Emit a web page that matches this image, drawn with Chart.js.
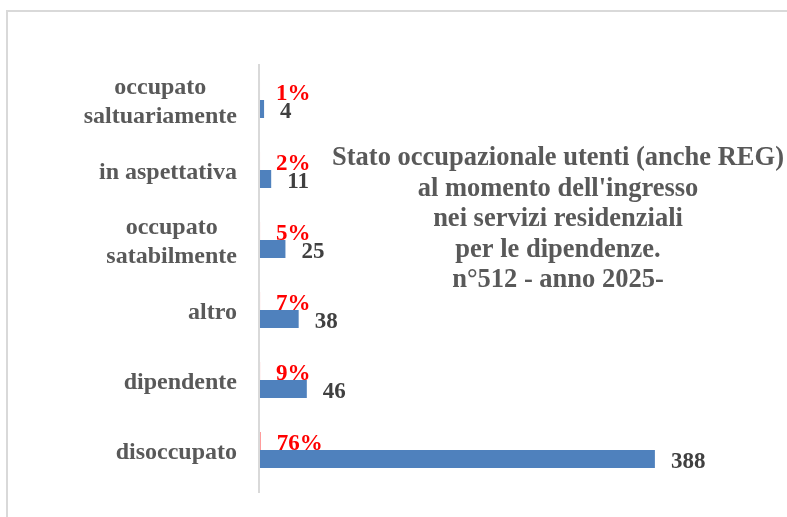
<!DOCTYPE html>
<html>
<head>
<meta charset="utf-8">
<script src="https://cdn.jsdelivr.net/npm/chart.js@4.4.1/dist/chart.umd.min.js"></script>
<style>
  html, body { margin: 0; padding: 0; background: #fff; overflow: hidden; }
  #frame { position: absolute; left: 6px; top: 10px; width: 820px; height: 560px; border: 2px solid #d9d9d9; box-sizing: border-box; }
  #myChart { position: absolute; left: 0; top: 0; }
</style>
</head>
<body>
<div id="frame"></div>
<canvas id="myChart" width="787" height="517"></canvas>
<script>
// data
const categories = [
    ['occupato', 'saltuariamente'],
    'in aspettativa',
    ['occupato', 'satabilmente'],
    'altro',
    'dipendente',
    'disoccupato'
];
const counts = [4, 11, 25, 38, 46, 388];
const shares = [0.01, 0.02, 0.05, 0.07, 0.09, 0.76];
const titleLines = [
    'Stato occupazionale utenti (anche REG)',
    "al momento dell'ingresso",
    'nei servizi residenziali',
    'per le dipendenze.',
    'n°512 - anno 2025-'
];

const serif = '"Liberation Serif", "Times New Roman", serif';

// vertical axis line, a bit longer than the plot like in Excel
const axisLine = {
    id: 'axisLine',
    beforeDatasetsDraw(chart) {
        const ctx = chart.ctx;
        const area = chart.chartArea;
        ctx.save();
        ctx.strokeStyle = '#d9d9d9';
        ctx.lineWidth = 2;
        ctx.beginPath();
        ctx.moveTo(area.left - 1, area.top - 1);
        ctx.lineTo(area.left - 1, area.bottom + 8);
        ctx.stroke();
        ctx.restore();
    }
};

// category labels: block right aligned on the axis, lines centred inside the block
const categoryLabels = {
    id: 'categoryLabels',
    afterDraw(chart) {
        const ctx = chart.ctx;
        const yScale = chart.scales.y;
        ctx.save();
        ctx.font = 'bold 24px ' + serif;
        ctx.fillStyle = '#595959';
        ctx.textAlign = 'center';
        ctx.textBaseline = 'alphabetic';
        categories.forEach((label, i) => {
            const lines = Array.isArray(label) ? label : [label];
            const w = Math.max(...lines.map(l => ctx.measureText(l).width));
            const cx = chart.chartArea.left - 23 - w / 2;
            const cy = yScale.getPixelForTick(i);
            lines.forEach((l, j) => {
                const off = (j - (lines.length - 1) / 2) * 28.5;
                ctx.fillText(l, cx, cy + 8.5 + off);
            });
        });
        ctx.restore();
    }
};

// value labels next to each bar
const valueLabels = {
    id: 'valueLabels',
    afterDatasetsDraw(chart) {
        const ctx = chart.ctx;
        ctx.save();
        ctx.font = 'bold 23px ' + serif;
        ctx.textAlign = 'left';
        ctx.textBaseline = 'alphabetic';
        chart.data.datasets.forEach((ds, di) => {
            chart.getDatasetMeta(di).data.forEach((bar, i) => {
                const txt = di === 0 ? Math.round(ds.data[i] * 100) + '%' : String(ds.data[i]);
                ctx.fillStyle = di === 0 ? '#ff0000' : '#404040';
                ctx.fillText(txt, bar.x + 16, bar.y + 9);
            });
        });
        ctx.restore();
    }
};

// the title sits inside the plot
const innerTitle = {
    id: 'innerTitle',
    afterDraw(chart) {
        const ctx = chart.ctx;
        ctx.save();
        ctx.font = 'bold 26.5px ' + serif;
        ctx.fillStyle = '#595959';
        ctx.textAlign = 'center';
        ctx.textBaseline = 'alphabetic';
        titleLines.forEach((l, i) => {
            ctx.fillText(l, 558, 165 + i * 30.5);
        });
        ctx.restore();
    }
};

const ctx = document.getElementById('myChart').getContext('2d');
const chart = new Chart(ctx, {
    type: 'bar',
    data: {
        labels: categories,
        datasets: [
            {
                label: '%',
                data: shares,
                backgroundColor: 'rgba(255, 0, 0, 0.5)'
            },
            {
                label: 'n',
                data: counts,
                backgroundColor: '#4f81bd'
            }
        ]
    },
    options: {
        indexAxis: 'y',
        responsive: false,
        animation: false,
        devicePixelRatio: 1,
        categoryPercentage: 0.514,
        barPercentage: 1,
        layout: {
            padding: { top: 65, bottom: 32, left: 0, right: 69 }
        },
        scales: {
            x: {
                display: false,
                min: 0,
                max: 450
            },
            y: {
                ticks: { display: false },
                grid: { display: false },
                border: { display: false },
                afterFit(scale) { scale.width = 260; }
            }
        },
        plugins: {
            legend: { display: false },
            title: { display: false },
            tooltip: { enabled: false }
        }
    },
    plugins: [axisLine, valueLabels, categoryLabels, innerTitle]
});
</script>
</body>
</html>
